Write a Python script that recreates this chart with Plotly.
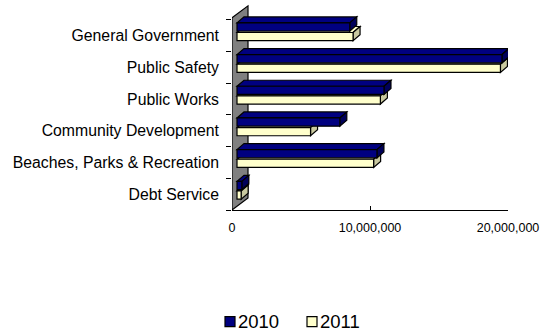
import plotly.graph_objects as go

# ---------------- data ----------------
categories = [
    "General Government",
    "Public Safety",
    "Public Works",
    "Community Development",
    "Beaches, Parks & Recreation",
    "Debt Service",
]
values_2010 = [8170000, 19200000, 10650000, 7450000, 10140000, 350000]
values_2011 = [8410000, 19090000, 10390000, 5330000, 9900000, 300000]
series_names = ["2010", "2011"]
x_tick_values = [0, 10000000, 20000000]
x_tick_labels = ["0", "10,000,000", "20,000,000"]

# ---------------- layout geometry ----------------
W, H = 543, 334
L, R, B = 232, 35, 124
n = len(categories)
x_max = x_tick_values[-1]
y_lo, y_hi = -1.0, n - 0.5
band_px = 190 / n
T = 20 - 0.5 * band_px
plot_w = W - L - R
plot_h = H - T - B
px_x = plot_w / x_max
px_y = plot_h / (y_hi - y_lo)


def dx(p):
    return p / px_x


def dy(p):
    return p / px_y


FONT = "Arial, Liberation Sans, sans-serif"
NAVY, NAVY_SIDE = "#000080", "#00005a"
YEL, YEL_SIDE = "#FFFFCC", "#c9c9a0"

# bar placement (pixel offsets from category centre, front face)
bar_thick = 8.2
off_2010 = -12.8
off_2011 = -3.2
front_x = dx(5)          # bars start 5px in front of wall base
depth_x, depth_y = dx(7), dy(6)

series = [
    (series_names[0], values_2010, NAVY, NAVY, NAVY_SIDE, off_2010),
    (series_names[1], values_2011, YEL, YEL, YEL_SIDE, off_2011),
]

fig = go.Figure()
shapes = []

# side wall
wall_dx, wall_dy = dx(16), dy(12)
wall_top = -0.5 - dy(2)
shapes.append(dict(
    type="path", xref="x", yref="y", layer="below",
    path=(f"M0,{wall_top} L{wall_dx},{wall_top - wall_dy} "
          f"L{wall_dx},{y_hi - wall_dy} L0,{y_hi} Z"),
    fillcolor="#808080", line=dict(color="black", width=1.2),
))

# 3D faces: draw from bottom category up, 2011 before 2010
for i in reversed(range(n)):
    for name, vals, front, top, side, off in reversed(series):
        v = vals[i]
        y_t = i + dy(off)
        y_b = y_t + dy(bar_thick)
        x0 = front_x
        x1 = front_x + v
        top_path = (f"M{x0},{y_t} L{x1},{y_t} L{x1 + depth_x},{y_t - depth_y} "
                    f"L{x0 + depth_x},{y_t - depth_y} Z")
        side_path = (f"M{x1},{y_t} L{x1 + depth_x},{y_t - depth_y} "
                     f"L{x1 + depth_x},{y_b - depth_y} L{x1},{y_b} Z")
        shapes.append(dict(type="path", xref="x", yref="y", layer="below",
                           path=top_path, fillcolor=top,
                           line=dict(color="black", width=1.2)))
        shapes.append(dict(type="path", xref="x", yref="y", layer="below",
                           path=side_path, fillcolor=side,
                           line=dict(color="black", width=1.2)))

# front faces as real bars
for name, vals, front, top, side, off in series:
    fig.add_trace(go.Bar(
        name=name, orientation="h",
        x=vals, y=list(range(n)),
        base=[front_x] * n,
        width=dy(bar_thick), offset=dy(off),
        marker=dict(color=front, line=dict(color="black", width=1.2)),
        showlegend=False,
    ))

# manual legend (square + text)
def pxp(px):
    return (px - L) / plot_w


def pyp(py):
    return (H - B - py) / plot_h


annotations = []
leg_y = 321.5
for (name, vals, front, top, side, off), sx in zip(series, [225, 307]):
    shapes.append(dict(type="rect", xref="paper", yref="paper",
                       x0=pxp(sx), x1=pxp(sx + 10),
                       y0=pyp(leg_y - 5), y1=pyp(leg_y + 5),
                       fillcolor=front, line=dict(color="black", width=1.2)))
    annotations.append(dict(xref="paper", yref="paper",
                            x=pxp(sx + 11), y=pyp(leg_y),
                            xanchor="left", yanchor="middle",
                            text=name, showarrow=False,
                            font=dict(family=FONT, size=18.5, color="black")))

fig.update_layout(
    width=W, height=H,
    margin=dict(l=L, r=R, t=T, b=B, pad=0),
    paper_bgcolor="white", plot_bgcolor="white",
    barmode="overlay",
    shapes=shapes, annotations=annotations,
    xaxis=dict(
        range=[0, x_max], tickvals=x_tick_values, ticktext=x_tick_labels,
        ticks="inside", ticklen=4, tickcolor="black",
        showline=True, linecolor="black", linewidth=1.2,
        showgrid=False, zeroline=False, ticklabelstandoff=6,
        tickfont=dict(family=FONT, size=12.5, color="black"),
    ),
    yaxis=dict(
        range=[y_hi, y_lo], tickvals=list(range(n)), ticktext=categories,
        ticks="", showgrid=False, zeroline=False, showline=False,
        ticklabelstandoff=12,
        minor=dict(tickvals=[k - 0.5 for k in range(n + 1)], ticks="outside",
                   ticklen=5, tickcolor="black", showgrid=False),
        tickfont=dict(family=FONT, size=15.8, color="black"),
    ),
    showlegend=False,
)

fig.write_html("out.html")
